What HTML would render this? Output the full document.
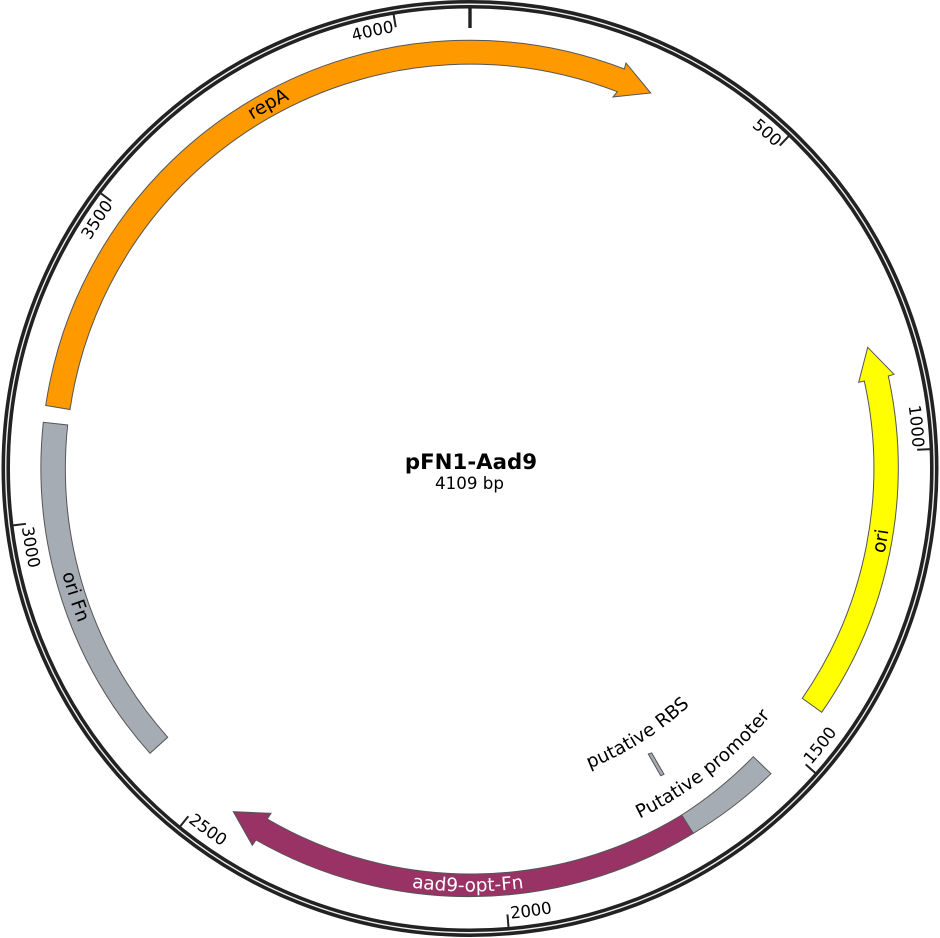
<!DOCTYPE html>
<html>
<head>
<meta charset="utf-8">
<style>
html,body{margin:0;padding:0;background:#fff;width:940px;height:938px;overflow:hidden}
svg{display:block}
text{font-family:"DejaVu Sans","Liberation Sans",sans-serif;fill:#000}
.t{font-size:16.5px}
.f{font-size:18.5px}
</style>
</head>
<body>
<svg width="940" height="938" viewBox="0 0 940 938" xmlns="http://www.w3.org/2000/svg">
<defs>
<path id="b421" d="M49,468.5 A421,421 0 0 0 891,468.5"/>
<path id="b423" d="M47,468.5 A423,423 0 0 0 893,468.5"/>
<path id="b389" d="M81,468.5 A389,389 0 0 0 859,468.5"/>
<path id="b323" d="M147,468.5 A323,323 0 0 0 793,468.5"/>
<path id="t411" d="M59,468.5 A411,411 0 0 1 881,468.5"/>
<path id="t443" d="M27,468.5 A443,443 0 0 1 913,468.5"/>
<path id="b452" d="M18,468.5 A452,452 0 0 0 922,468.5"/>
</defs>

<!-- backbone ring -->
<circle cx="470" cy="468.5" r="464.25" fill="none" stroke="#222" stroke-width="8.5"/>
<circle cx="470" cy="468.5" r="464.25" fill="none" stroke="#eee" stroke-width="1.4"/>

<!-- ticks -->
<g stroke="#222" stroke-width="2">
<line x1="470" y1="7" x2="470" y2="28" stroke-width="3.4"/>
<line x1="470" y1="7" x2="470" y2="21" transform="rotate(43.8 470 468.5)"/>
<line x1="470" y1="7" x2="470" y2="21" transform="rotate(87.6 470 468.5)"/>
<line x1="470" y1="7" x2="470" y2="21" transform="rotate(131.4 470 468.5)"/>
<line x1="470" y1="7" x2="470" y2="21" transform="rotate(175.2 470 468.5)"/>
<line x1="470" y1="7" x2="470" y2="21" transform="rotate(219 470 468.5)"/>
<line x1="470" y1="7" x2="470" y2="21" transform="rotate(262.9 470 468.5)"/>
<line x1="470" y1="7" x2="470" y2="21" transform="rotate(306.7 470 468.5)"/>
<line x1="470" y1="7" x2="470" y2="21" transform="rotate(350.45 470 468.5)"/>
</g>

<!-- tick labels -->
<text class="t" text-anchor="end" transform="rotate(43.5 470 468.5)"><textPath href="#t443" startOffset="50%">500</textPath></text>
<text class="t" text-anchor="end" transform="rotate(87.3 470 468.5)"><textPath href="#t443" startOffset="50%">1000</textPath></text>
<text class="t" text-anchor="start" transform="rotate(-49 470 468.5)"><textPath href="#b452" startOffset="50%">1500</textPath></text>
<text class="t" text-anchor="start" transform="rotate(-5.2 470 468.5)"><textPath href="#b452" startOffset="50%">2000</textPath></text>
<text class="t" text-anchor="start" transform="rotate(38.6 470 468.5)"><textPath href="#b452" startOffset="50%">2500</textPath></text>
<text class="t" text-anchor="start" transform="rotate(82.5 470 468.5)"><textPath href="#b452" startOffset="50%">3000</textPath></text>
<text class="t" text-anchor="end" transform="rotate(-53.6 470 468.5)"><textPath href="#t443" startOffset="50%">3500</textPath></text>
<text class="t" text-anchor="end" transform="rotate(-9.85 470 468.5)"><textPath href="#t443" startOffset="50%">4000</textPath></text>

<!-- features -->
<g stroke="#555" stroke-width="1" stroke-linejoin="miter">
<path fill="#ff9900" d="M45.7,405.5 A429,429 0 0 1 624.3,69 L626,63 L650.7,93 L613,97 L617.3,91.7 A405,405 0 0 0 70,409.5 Z"/>
<path fill="#a6acb3" d="M43.3,422.3 A429,429 0 0 0 150,753.3 L167.7,737.3 A405,405 0 0 1 67.7,425 Z"/>
<path fill="#ffff00" d="M802.3,698.3 A405,405 0 0 0 864.3,381 L858.7,382.3 L867.7,347.3 L894,374.3 L888.3,376 A429,429 0 0 1 821.7,712.3 Z"/>
<path fill="#993366" d="M681.7,815 A405,405 0 0 1 267.3,819 L271,813.3 L233.3,811.7 L252.3,845.3 L256,840 A429,429 0 0 0 693.3,833.3 Z"/>
<path fill="#a6acb3" d="M681.7,815 A405,405 0 0 0 753.3,756.7 L771,773.7 A429,429 0 0 1 693.3,833.3 Z"/>
<polygon fill="#a6acb3" points="648.3,754 651.7,753 664,774.3 660.7,775.7"/>
</g>

<!-- feature labels -->
<text class="f" text-anchor="middle" transform="rotate(-29 470 468.5)"><textPath href="#t411" startOffset="50%">repA</textPath></text>
<text class="f" text-anchor="middle" transform="rotate(-80 470 468.5)"><textPath href="#b423" startOffset="50%">ori</textPath></text>
<text class="f" text-anchor="middle" transform="rotate(72 470 468.5)"><textPath href="#b421" startOffset="50%">ori Fn</textPath></text>
<text class="f" text-anchor="middle" style="fill:#fff" transform="rotate(0.3 470 468.5)"><textPath href="#b423" startOffset="50%" style="fill:#fff">aad9-opt-Fn</textPath></text>
<text class="f" text-anchor="middle" transform="rotate(-38.2 470 468.5)"><textPath href="#b389" startOffset="50%">Putative promoter</textPath></text>
<text class="f" text-anchor="middle" transform="rotate(-32.3 470 468.5)"><textPath href="#b323" startOffset="50%">putative RBS</textPath></text>

<!-- centre -->
<text x="471" y="469" text-anchor="middle" font-weight="bold" style="font-size:21.3px">pFN1-Aad9</text>
<text x="469.5" y="489" text-anchor="middle" style="font-size:16.7px">4109 bp</text>
</svg>
</body>
</html>
